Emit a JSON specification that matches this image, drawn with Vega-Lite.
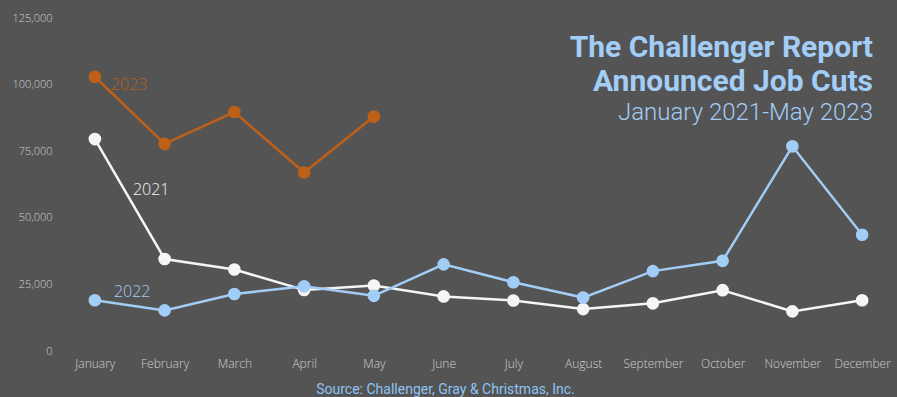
{
  "$schema": "https://vega.github.io/schema/vega-lite/v6.json",
  "autosize": "none",
  "width": 837,
  "height": 333,
  "padding": {"left": 60, "top": 18, "right": 0, "bottom": 46},
  "background": "#545454",
  "config": {
    "view": {"stroke": null},
    "axis": {"grid": false, "domain": false, "ticks": false, "labelFont": "Open Sans", "labelFontWeight": 300, "labelColor": "#d0d0d0", "labelFontSize": 11}
  },
  "title": {
    "text": ["The Challenger Report", "Announced Job Cuts"],
    "subtitle": "January 2021-May 2023",
    "anchor": "end",
    "frame": "group",
    "orient": "top",
    "font": "Roboto",
    "fontWeight": "bold",
    "fontSize": 30,
    "lineHeight": 34,
    "color": "#A2CDF7",
    "subtitleFont": "Roboto",
    "subtitleFontWeight": 300,
    "subtitleFontSize": 24,
    "subtitleColor": "#A2CDF7",
    "subtitlePadding": 4,
    "dx": -24,
    "dy": 113,
    "offset": 0
  },
  "data": {
    "values": [
      {"year": "2021", "month": "January", "cuts": 79552},
      {"year": "2021", "month": "February", "cuts": 34531},
      {"year": "2021", "month": "March", "cuts": 30603},
      {"year": "2021", "month": "April", "cuts": 22913},
      {"year": "2021", "month": "May", "cuts": 24586},
      {"year": "2021", "month": "June", "cuts": 20476},
      {"year": "2021", "month": "July", "cuts": 18942},
      {"year": "2021", "month": "August", "cuts": 15723},
      {"year": "2021", "month": "September", "cuts": 17895},
      {"year": "2021", "month": "October", "cuts": 22822},
      {"year": "2021", "month": "November", "cuts": 14875},
      {"year": "2021", "month": "December", "cuts": 19052},
      {"year": "2022", "month": "January", "cuts": 19064},
      {"year": "2022", "month": "February", "cuts": 15245},
      {"year": "2022", "month": "March", "cuts": 21387},
      {"year": "2022", "month": "April", "cuts": 24286},
      {"year": "2022", "month": "May", "cuts": 20712},
      {"year": "2022", "month": "June", "cuts": 32517},
      {"year": "2022", "month": "July", "cuts": 25810},
      {"year": "2022", "month": "August", "cuts": 20050},
      {"year": "2022", "month": "September", "cuts": 29989},
      {"year": "2022", "month": "October", "cuts": 33843},
      {"year": "2022", "month": "November", "cuts": 76835},
      {"year": "2022", "month": "December", "cuts": 43651},
      {"year": "2023", "month": "January", "cuts": 102943},
      {"year": "2023", "month": "February", "cuts": 77770},
      {"year": "2023", "month": "March", "cuts": 89703},
      {"year": "2023", "month": "April", "cuts": 66995},
      {"year": "2023", "month": "May", "cuts": 88000}
    ]
  },
  "encoding": {
    "x": {
      "field": "month", "type": "ordinal",
      "sort": ["January", "February", "March", "April", "May", "June", "July", "August", "September", "October", "November", "December"],
      "scale": {"type": "point", "padding": 0.5},
      "axis": {"labelAngle": 0, "labelPadding": 7, "labelFontSize": 12, "title": "Source: Challenger, Gray & Christmas, Inc.", "titleFont": "Roboto", "titleFontWeight": "normal", "titleFontSize": 14, "titleColor": "#8FC3F5", "titleX": 385, "titleY": 42, "titleAnchor": null, "titleAlign": "center", "titleBaseline": "alphabetic"}
    },
    "y": {
      "field": "cuts", "type": "quantitative",
      "scale": {"domain": [0, 125000], "nice": false},
      "axis": {"values": [0, 25000, 50000, 75000, 100000, 125000], "format": ",d", "title": null, "labelPadding": 8}
    },
    "color": {
      "field": "year", "type": "nominal",
      "scale": {"domain": ["2021", "2022", "2023"], "range": ["#F5F5F5", "#A2CDF7", "#BF6019"]},
      "legend": null
    }
  },
  "layer": [
    {"mark": {"type": "line", "strokeWidth": 2.5}},
    {"mark": {"type": "point", "filled": true, "opacity": 1, "size": 160}},
    {
      "transform": [{"filter": "datum.month == 'January' && datum.year == '2023'"}],
      "mark": {"type": "text", "align": "left", "baseline": "middle", "dx": 16, "dy": 8, "font": "Open Sans", "fontWeight": 300, "fontSize": 16},
      "encoding": {"text": {"field": "year"}}
    },
    {
      "transform": [{"filter": "datum.month == 'January' && datum.year == '2021'"}],
      "mark": {"type": "text", "align": "left", "baseline": "middle", "dx": 38, "dy": 51, "font": "Open Sans", "fontWeight": 300, "fontSize": 16},
      "encoding": {"text": {"field": "year"}}
    },
    {
      "transform": [{"filter": "datum.month == 'January' && datum.year == '2022'"}],
      "mark": {"type": "text", "align": "left", "baseline": "middle", "dx": 19, "dy": -8, "font": "Open Sans", "fontWeight": 300, "fontSize": 16},
      "encoding": {"text": {"field": "year"}}
    }
  ]
}
